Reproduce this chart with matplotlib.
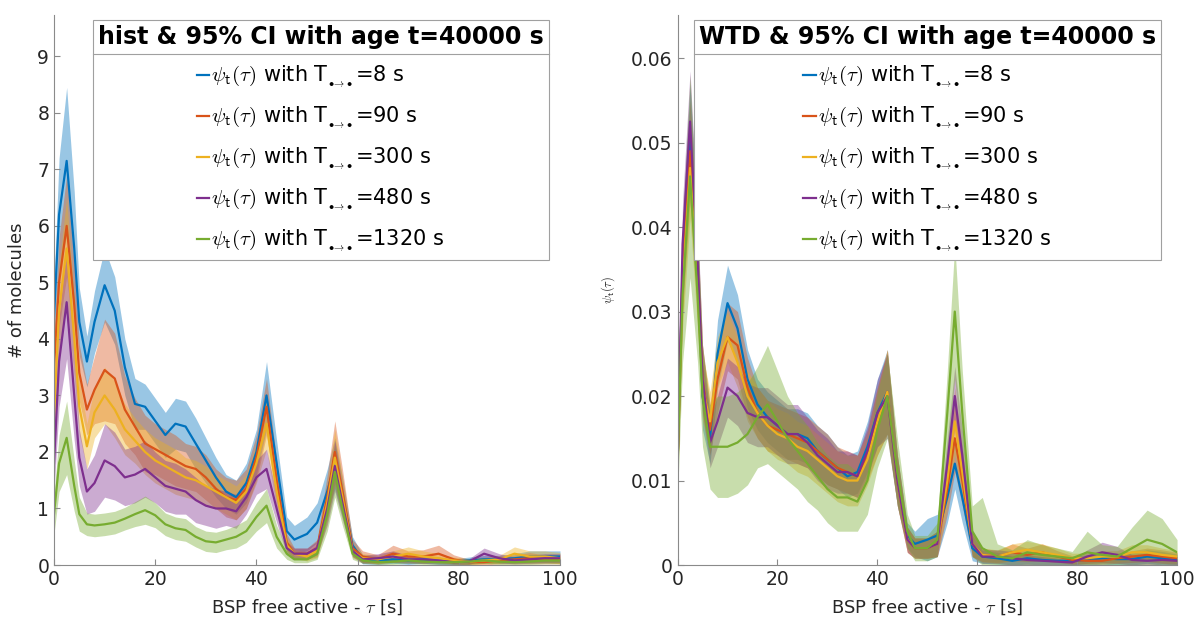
import numpy as np
import matplotlib
matplotlib.use('Agg')
from matplotlib import pyplot as plt
from matplotlib.lines import Line2D

plt.rcParams['font.family'] = 'DejaVu Sans'
plt.rcParams['mathtext.fontset'] = 'cm'

# time grid (s)
tau = [0, 1, 2.5, 4, 5, 6.5, 8, 10, 12, 14, 16, 18, 20, 22, 24, 26, 28, 30, 32, 34, 36, 38, 40, 42,
       44, 46, 47.5, 50, 52, 54, 55.5, 57, 59, 61, 64, 67, 70, 73, 76, 79, 82, 85, 88, 91, 94, 97, 100]

labels = ['8 s', '90 s', '300 s', '480 s', '1320 s']
colors = ['#0072BD', '#D95319', '#EDB120', '#7E2F8E', '#77AC30']

# left: histogram counts (mean, CI half width)
h_mean = [
    [4.4, 6.2, 7.15, 5.6, 4.3, 3.6, 4.3, 4.95, 4.5, 3.5, 2.85, 2.8, 2.55, 2.3, 2.5, 2.45, 2.15, 1.85, 1.55, 1.3, 1.2, 1.45, 2.0, 3.0,
     1.8, 0.6, 0.45, 0.55, 0.75, 1.3, 1.8, 1.2, 0.35, 0.1, 0.08, 0.1, 0.08, 0.1, 0.07, 0.06, 0.08, 0.1, 0.1, 0.12, 0.15, 0.15, 0.15],
    [3.5, 5.0, 6.0, 4.6, 3.4, 2.75, 3.1, 3.45, 3.3, 2.75, 2.45, 2.15, 2.05, 1.95, 1.85, 1.75, 1.7, 1.55, 1.35, 1.2, 1.15, 1.35, 1.9, 2.8,
     1.5, 0.4, 0.2, 0.2, 0.3, 1.2, 2.0, 1.3, 0.3, 0.15, 0.1, 0.2, 0.15, 0.15, 0.2, 0.1, 0.05, 0.05, 0.08, 0.1, 0.12, 0.1, 0.1],
    [2.6, 4.5, 5.6, 4.0, 2.8, 2.1, 2.7, 3.0, 2.75, 2.4, 2.2, 2.0, 1.85, 1.75, 1.65, 1.55, 1.5, 1.4, 1.3, 1.2, 1.1, 1.3, 1.8, 2.5,
     1.3, 0.35, 0.2, 0.15, 0.25, 1.1, 1.9, 1.2, 0.25, 0.12, 0.1, 0.15, 0.2, 0.15, 0.12, 0.08, 0.06, 0.08, 0.1, 0.2, 0.15, 0.15, 0.12],
    [1.8, 3.6, 4.65, 3.0, 1.9, 1.3, 1.45, 1.85, 1.75, 1.55, 1.6, 1.7, 1.55, 1.4, 1.35, 1.3, 1.15, 1.05, 1.0, 1.0, 0.95, 1.2, 1.55, 1.7,
     1.0, 0.3, 0.2, 0.2, 0.3, 1.0, 1.75, 1.1, 0.25, 0.1, 0.12, 0.15, 0.1, 0.1, 0.08, 0.05, 0.06, 0.2, 0.12, 0.08, 0.1, 0.12, 0.12],
    [0.9, 1.8, 2.25, 1.4, 0.9, 0.72, 0.7, 0.72, 0.75, 0.82, 0.9, 0.97, 0.88, 0.72, 0.65, 0.62, 0.5, 0.42, 0.4, 0.45, 0.5, 0.6, 0.85, 1.05,
     0.5, 0.2, 0.1, 0.1, 0.2, 0.9, 1.65, 1.0, 0.2, 0.08, 0.05, 0.06, 0.08, 0.06, 0.05, 0.05, 0.06, 0.08, 0.06, 0.05, 0.06, 0.08, 0.08],
]
h_ci = [
    [0.6, 1.0, 1.3, 1.0, 0.6, 0.45, 0.55, 0.65, 0.6, 0.5, 0.45, 0.4, 0.4, 0.4, 0.45, 0.45, 0.45, 0.4, 0.35, 0.3, 0.3, 0.35, 0.4, 0.6,
     0.4, 0.25, 0.25, 0.3, 0.35, 0.4, 0.45, 0.35, 0.15, 0.08, 0.07, 0.07, 0.07, 0.07, 0.06, 0.05, 0.06, 0.07, 0.07, 0.08, 0.1, 0.1, 0.1],
    [0.6, 0.8, 0.9, 0.7, 0.5, 0.45, 0.6, 0.9, 0.8, 0.6, 0.5, 0.5, 0.45, 0.45, 0.45, 0.4, 0.4, 0.4, 0.35, 0.35, 0.35, 0.35, 0.4, 0.5,
     0.35, 0.15, 0.1, 0.1, 0.15, 0.4, 0.55, 0.4, 0.15, 0.1, 0.08, 0.15, 0.1, 0.12, 0.15, 0.08, 0.05, 0.05, 0.06, 0.08, 0.1, 0.08, 0.08],
    [0.5, 0.8, 0.9, 0.7, 0.5, 0.4, 0.45, 0.5, 0.5, 0.45, 0.4, 0.4, 0.4, 0.4, 0.4, 0.35, 0.35, 0.35, 0.3, 0.3, 0.3, 0.3, 0.35, 0.45,
     0.3, 0.12, 0.08, 0.08, 0.12, 0.35, 0.5, 0.35, 0.12, 0.08, 0.07, 0.1, 0.12, 0.1, 0.08, 0.06, 0.05, 0.06, 0.07, 0.12, 0.1, 0.1, 0.1],
    [0.5, 0.8, 1.0, 0.8, 0.5, 0.4, 0.5, 0.65, 0.6, 0.5, 0.5, 0.5, 0.45, 0.45, 0.45, 0.4, 0.4, 0.35, 0.35, 0.3, 0.3, 0.3, 0.3, 0.35,
     0.25, 0.12, 0.1, 0.1, 0.12, 0.3, 0.45, 0.3, 0.1, 0.07, 0.08, 0.1, 0.07, 0.07, 0.06, 0.04, 0.05, 0.1, 0.08, 0.06, 0.07, 0.08, 0.08],
    [0.35, 0.5, 0.65, 0.45, 0.3, 0.2, 0.2, 0.2, 0.2, 0.2, 0.22, 0.25, 0.22, 0.2, 0.2, 0.2, 0.18, 0.18, 0.18, 0.18, 0.2, 0.2, 0.25, 0.3,
     0.2, 0.1, 0.06, 0.06, 0.1, 0.3, 0.45, 0.3, 0.1, 0.05, 0.04, 0.05, 0.05, 0.05, 0.04, 0.04, 0.05, 0.05, 0.05, 0.04, 0.05, 0.06, 0.06],
]

# right: waiting time density, in units of 1e-3
w_mean = [
    [12, 35, 51, 35, 20, 15, 25, 31, 28, 22, 19, 17.5, 16.5, 15.5, 15.5, 15, 13.5, 12.5, 11.5, 10.5, 11, 14, 18, 20.5,
     10, 3.5, 2.5, 3, 3.5, 8, 12, 8, 2, 1.0, 0.8, 0.5, 0.8, 0.6, 0.5, 0.5, 0.6, 0.8, 0.7, 0.7, 1.0, 0.8, 0.6],
    [12, 35, 49, 35, 22, 16, 22, 27, 26, 21, 18, 16.5, 16, 15.5, 15, 14.5, 13.5, 12.5, 11.5, 11, 10.5, 13, 17, 20.5,
     10, 3, 2, 2, 2.5, 9, 15, 10, 2.5, 1.2, 1.0, 1.5, 1.2, 1.5, 1.0, 0.6, 0.5, 0.5, 0.8, 1.0, 1.2, 1.0, 0.8],
    [12, 33, 47, 33, 21, 17, 24, 27, 24, 20, 18, 16.5, 15.5, 15, 14, 13.5, 12.5, 11.5, 10.5, 10, 10, 12.5, 17, 20.5,
     10, 3, 2, 2, 2.5, 10, 17, 11, 2.5, 1.2, 1.0, 1.5, 1.8, 1.5, 1.2, 0.8, 0.8, 1.0, 1.0, 1.5, 1.5, 1.2, 1.0],
    [12, 38, 52.5, 36, 22, 14.5, 17, 21, 20, 18, 17.5, 17.5, 16.5, 15.5, 15.5, 14.5, 13, 12, 11, 11, 10.5, 13.5, 18, 20,
     10, 3, 2, 2, 2.5, 12, 20, 13, 2.5, 1.0, 1.0, 0.8, 0.6, 0.5, 0.4, 0.3, 1.0, 1.5, 1.2, 0.6, 0.5, 0.6, 0.5],
    [12, 32, 46, 32, 20, 14, 14, 14, 14.5, 15.5, 17.5, 19, 17, 15, 13.5, 12, 10.5, 9, 8, 8, 7.5, 10, 16, 20,
     11, 4, 2, 2, 3, 18, 30, 18, 4, 2, 1.0, 0.8, 1.5, 1.2, 1.0, 0.8, 1.5, 1.2, 1.0, 2.0, 3.0, 2.5, 1.5],
]
w_ci = [
    [3, 5, 6, 5, 4, 3, 4, 4.5, 4, 3.5, 3, 3, 3, 3, 3, 3, 3, 3, 2.5, 2.5, 2.5, 3, 4, 5,
     3, 1.5, 1.5, 2.5, 2.5, 3, 3, 3, 1.5, 0.8, 0.7, 0.6, 0.7, 0.8, 0.6, 0.5, 0.6, 0.7, 0.7, 0.7, 0.8, 0.8, 0.7],
    [3, 5, 6, 5, 4, 3, 4, 4, 4, 3.5, 3, 3, 3, 3, 3, 3, 3, 3, 2.5, 2.5, 2.5, 3, 4, 5,
     3, 1.5, 1.2, 1.2, 1.5, 3, 4, 3, 1.5, 0.8, 0.7, 1.0, 0.8, 1.0, 0.7, 0.5, 0.4, 0.4, 0.6, 0.7, 0.8, 0.8, 0.7],
    [3, 5, 6, 5, 4, 3.5, 3, 3, 3, 3, 3, 3, 3, 3, 3, 3, 3, 3, 3, 3, 3, 3, 4, 5,
     3, 1.5, 1.2, 1.2, 1.5, 3, 4, 3, 1.5, 0.8, 0.8, 1.0, 1.0, 1.0, 0.8, 0.6, 0.6, 0.7, 0.7, 0.9, 0.9, 0.8, 0.7],
    [3, 5, 6, 5, 4, 3, 3, 3.5, 3.5, 3.5, 3.5, 3.5, 3.5, 3.5, 3.5, 3, 3, 3, 2.5, 2.5, 2.5, 3, 4, 5,
     3, 1.5, 1.2, 1.2, 1.5, 3, 3.5, 3, 1.5, 0.8, 0.8, 0.8, 0.6, 0.5, 0.4, 0.3, 0.8, 1.2, 1.0, 0.6, 0.5, 0.5, 0.5],
    [4, 8, 12, 8, 6, 5, 6, 6, 6, 6, 6, 7, 6, 5, 4.5, 4.5, 4, 4, 4, 4, 3.5, 4, 4.5, 5,
     4, 2, 1.5, 1.5, 2, 5, 8, 5, 3, 6, 1.5, 1.0, 1.5, 1.2, 1.0, 0.8, 2.5, 1.2, 1.2, 2.5, 3.5, 3, 1.5],
]

fig = plt.figure(figsize=(11.95, 6.2), dpi=100)
ax1 = fig.add_axes([0.0452, 0.0887, 0.4234, 0.887])
ax2 = fig.add_axes([0.567, 0.0887, 0.418, 0.887])

x = np.array(tau)


def shaded(ax, mean, ci, scale=1.0):
    for i in range(len(mean)):
        m = np.array(mean[i]) * scale
        c = np.array(ci[i]) * scale
        ax.fill_between(x, np.clip(m - c, 0, None), m + c, color=colors[i], alpha=0.4, lw=0)
        ax.plot(x, m, color=colors[i], lw=1.6,
                label=r'$\psi_{\mathsf{t}}(\tau)$ with T$_{_{\bullet\!\rightarrow\!\bullet}}$=' + labels[i])


shaded(ax1, h_mean, h_ci)
shaded(ax2, w_mean, w_ci, 1e-3)

ax1.set_ylim(0, 9.73)
ax1.set_yticks(range(10))
ax2.set_ylim(0, 0.0651)
ax2.set_yticks([0, 0.01, 0.02, 0.03, 0.04, 0.05, 0.06])
ax2.set_yticklabels(['0', '0.01', '0.02', '0.03', '0.04', '0.05', '0.06'])

legs = []
for ax, ttl, anchor in [(ax1, 'hist & 95% CI with age t=40000 s', (0.978, 0.991)),
                        (ax2, 'WTD & 95% CI with age t=40000 s', (0.968, 0.991))]:
    ax.set_xlim(0, 100)
    ax.set_xticks([0, 20, 40, 60, 80, 100])
    for s in ['top', 'right']:
        ax.spines[s].set_visible(False)
    for s in ['left', 'bottom']:
        ax.spines[s].set_color('#8a8a8a')
        ax.spines[s].set_linewidth(0.8)
    ax.tick_params(direction='in', length=4, colors='#8a8a8a', labelcolor='#262626', labelsize=13.5)
    ax.set_xlabel(r'BSP free active - $\tau$ [s]', fontsize=13, color='#262626', labelpad=6)
    leg = ax.legend(loc='upper right', bbox_to_anchor=anchor, borderaxespad=0, fontsize=15,
                    title=ttl, title_fontproperties={'weight': 'bold', 'size': 17},
                    handlelength=0.6, handletextpad=0.1, labelspacing=0.72, fancybox=False,
                    framealpha=1, edgecolor='#a0a0a0', borderpad=0.25)
    leg.get_frame().set_linewidth(0.8)
    legs.append(leg)

ax1.set_ylabel('# of molecules', fontsize=13, color='#262626', labelpad=8)
ax2.set_ylabel(r'$\psi_{\mathsf{t}}(\tau)$', fontsize=9, color='#262626', labelpad=10)

# line under legend titles
fig.canvas.draw()
r = fig.canvas.get_renderer()
for leg in legs:
    fb = leg.get_frame().get_window_extent(r)
    tb = leg.get_title().get_window_extent(r)
    yl = tb.y0 - 5
    inv = fig.transFigure.inverted()
    p0 = inv.transform((fb.x0, yl))
    p1 = inv.transform((fb.x1, yl))
    fig.add_artist(Line2D([p0[0], p1[0]], [p0[1], p1[1]], transform=fig.transFigure,
                          color='#a0a0a0', lw=0.8))

fig.savefig('out.png', dpi=100)
